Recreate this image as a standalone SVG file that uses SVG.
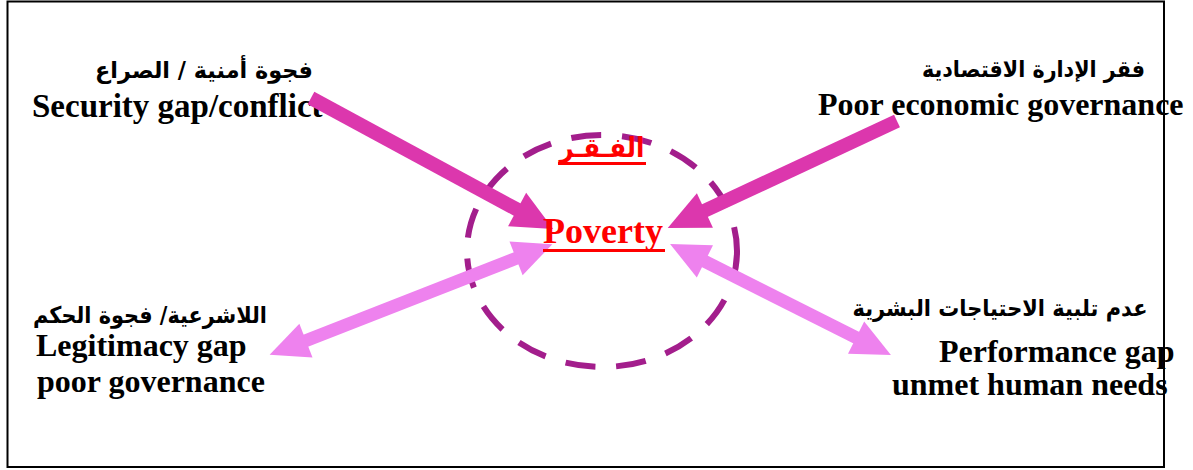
<svg xmlns="http://www.w3.org/2000/svg" width="1193" height="470" viewBox="0 0 1193 470">
<style>
.en{font-family:"Liberation Serif","Times New Roman",serif;font-weight:bold;font-size:32px;fill:#000}
.ar{font-family:"DejaVu Sans","Liberation Sans",sans-serif;font-weight:bold;font-size:23px;fill:#000}
.red{fill:#FF0000}
.mag{stroke:#DC37AD;stroke-width:14;fill:none}
.vio{stroke:#EE82EE;stroke-width:13;fill:none}
</style>
<defs>
<marker id="hm" markerUnits="userSpaceOnUse" viewBox="-2 -20 44 40" markerWidth="44" markerHeight="40" refX="0" refY="0" orient="auto-start-reverse">
<path d="M-1,-19 L40,0 L-1,19 Z" fill="#DC37AD"/>
</marker>
<marker id="hv" markerUnits="userSpaceOnUse" viewBox="-2 -20 44 40" markerWidth="44" markerHeight="40" refX="0" refY="0" orient="auto-start-reverse">
<path d="M-1,-18 L38,0 L-1,18 Z" fill="#EE82EE"/>
</marker>
</defs>
<rect x="7.5" y="1.5" width="1156.5" height="465.5" fill="#fff" stroke="#000" stroke-width="2"/>
<g id="circle">
<ellipse cx="602" cy="251" rx="135" ry="116" fill="none" stroke="#A31E8C" stroke-width="6" stroke-dasharray="30 21"/>
</g>
<g id="security">
<text class="ar" x="204" y="78" text-anchor="middle" textLength="218" lengthAdjust="spacingAndGlyphs">فجوة أمنية / الصراع</text>
<text class="en" x="32" y="117" style="font-size:33px">Security gap/conflict</text>
</g>
<g id="economic">
<text class="ar" x="1033.5" y="77" text-anchor="middle" textLength="223" lengthAdjust="spacingAndGlyphs">فقر الإدارة الاقتصادية</text>
<text class="en" x="818" y="115">Poor economic governance</text>
</g>
<g id="legitimacy">
<text class="ar" x="150" y="323" text-anchor="middle" textLength="234" lengthAdjust="spacingAndGlyphs">اللاشرعية/ فجوة الحكم</text>
<text class="en" x="36" y="356">Legitimacy gap</text>
<text class="en" x="37" y="392">poor governance</text>
</g>
<g id="performance">
<text class="ar" x="1000" y="316" text-anchor="middle" textLength="295" lengthAdjust="spacingAndGlyphs">عدم تلبية الاحتياجات البشرية</text>
<text class="en" x="939" y="362">Performance gap</text>
<text class="en" x="892" y="395">unmet human needs</text>
</g>
<g id="connectors">
<line class="mag" x1="311" y1="98" x2="518" y2="210" marker-end="url(#hm)"/>
<line class="mag" x1="897" y1="121" x2="704" y2="211" marker-end="url(#hm)"/>
<line class="vio" x1="305" y1="341" x2="517" y2="258" marker-start="url(#hv)" marker-end="url(#hv)"/>
<line class="vio" x1="704" y1="261" x2="857" y2="338" marker-start="url(#hv)" marker-end="url(#hv)"/>
</g>
<g id="poverty">
<text class="ar red" x="602" y="157" text-anchor="middle" textLength="85" lengthAdjust="spacingAndGlyphs" style="font-size:27px">الفـقـر</text>
<rect x="558" y="162" width="88" height="3" fill="#FF0000"/>
<text class="en red" x="543" y="243" style="font-size:36px">Poverty</text>
<rect x="543" y="249" width="122" height="3" fill="#FF0000"/>
</g>
</svg>
